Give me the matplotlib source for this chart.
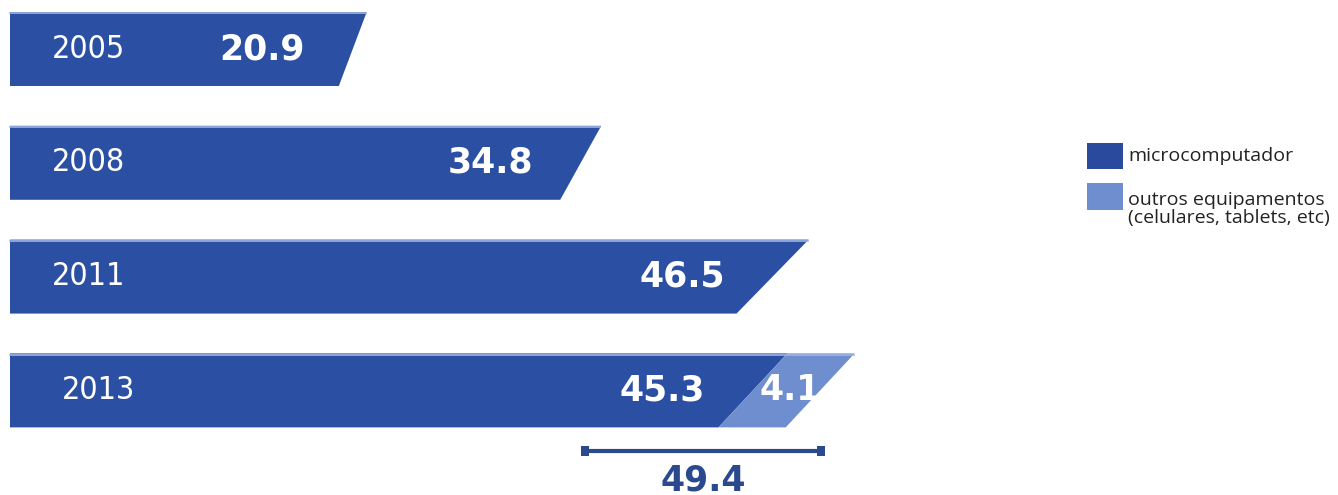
import matplotlib
matplotlib.use("Agg")
import matplotlib.pyplot as plt
from matplotlib.patches import Polygon, Rectangle

# ---- data ----
years = ["2005", "2008", "2011", "2013"]
micro = [20.9, 34.8, 46.5, 45.3]
outros = [0.0, 0.0, 0.0, 4.1]
total_2013 = 49.4
legend_labels = ["microcomputador", "outros equipamentos\n(celulares, tablets, etc)"]

# ---- style ----
DARK = "#2b4fa2"
LIGHT = "#6f8ed0"
EDGE = "#9fb4e0"
slants = [1.7, 2.5, 4.4, 4.2]   # slant of bar end (data units)
bar_h = 0.65

W, H = 1338, 495
fig = plt.figure(figsize=(W / 100, H / 100), dpi=100)
ax = fig.add_axes([0, 0, 1, 1])
k = 16.4  # px per unit
ax.set_xlim(-10 / k, (W - 10) / k)
y0, dy = 49, 113.8
ax.set_ylim((H - y0) / dy, -y0 / dy)
ax.axis("off")

def para(x0, x1, y, s, color, left_slant=False):
    top, bot = y - bar_h / 2, y + bar_h / 2
    if left_slant:
        pts = [(x0 + s / 2, top), (x1 + s / 2, top), (x1 - s / 2, bot), (x0 - s / 2, bot)]
    else:
        pts = [(x0, top), (x1 + s / 2, top), (x1 - s / 2, bot), (x0, bot)]
    ax.add_patch(Polygon(pts, closed=True, facecolor=color, edgecolor="none"))

for i, (yr, m, o) in enumerate(zip(years, micro, outros)):
    s = slants[i]
    para(0, m, i, s, DARK)
    if o > 0:
        para(m, m + o, i, s, LIGHT, left_slant=True)
        ax.text(m + o / 2 + 0.2, i, f"{o}", color="white", fontsize=25, fontweight="bold",
                ha="center", va="center", family="DejaVu Sans")
    # top highlight line
    ax.plot([0, m + o + s / 2 - 0.05], [i - bar_h / 2 + 0.012] * 2, color=EDGE, lw=1.2)
    ax.text(2.55 if i < 3 else 3.15, i, yr, color="white", fontsize=23, ha="left", va="center",
            family="DejaVu Sans", fontstretch="condensed")
    ax.text(m - 2.9, i, f"{m}", color="white", fontsize=25, fontweight="bold",
            ha="right", va="center", family="DejaVu Sans")

# bracket for total
yb = 3.53
bl, br = total_2013 - 14.6, total_2013 + 0.3
ax.plot([bl, br], [yb, yb], color="#2b4a8e", lw=3, solid_capstyle="butt")
for xx in (bl, br):
    ax.add_patch(Rectangle((xx - 0.0, yb - 0.045), 0.5 if xx == bl else -0.5, 0.09,
                           facecolor="#2b4a8e", edgecolor="none"))
ax.text((bl + br) / 2, 3.79, f"{total_2013}", color="#2b4a8e", fontsize=25,
        fontweight="bold", ha="center", va="center", family="DejaVu Sans")

# legend (drawn in figure pixel coords)
def fx(px):
    return px / W
def fy(py):
    return 1 - py / H

fig.patches.append(Rectangle((fx(1087), fy(169)), 36 / W, 26 / H, transform=fig.transFigure,
                             facecolor="#2a4a9e", edgecolor="none"))
fig.patches.append(Rectangle((fx(1087), fy(210)), 36 / W, 27 / H, transform=fig.transFigure,
                             facecolor=LIGHT, edgecolor="none"))
fig.text(fx(1128), fy(156), legend_labels[0], fontsize=14, color="#222222", va="center",
         ha="left", family="Open Sans")
fig.text(fx(1128), fy(209), legend_labels[1], fontsize=14, color="#222222", va="center",
         ha="left", family="Open Sans", linespacing=1.05)

fig.savefig("out.png", dpi=100)
